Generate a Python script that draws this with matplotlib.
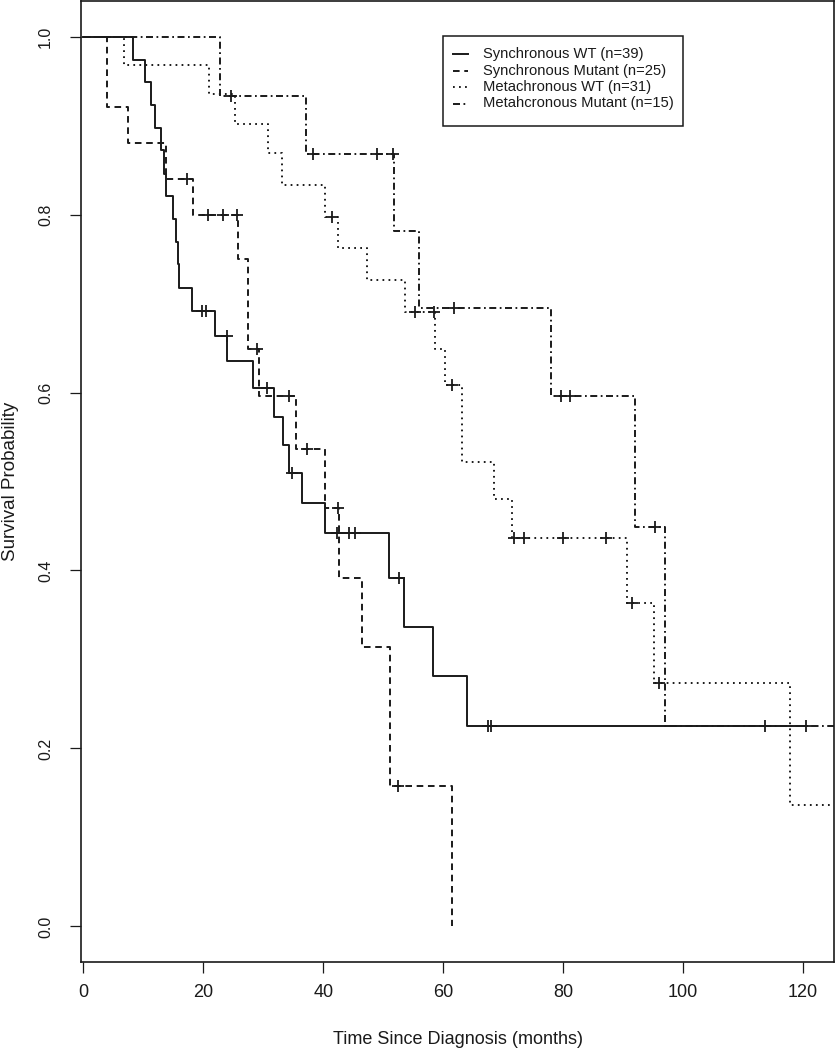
import numpy as np
import matplotlib
matplotlib.use("Agg")
import matplotlib.pyplot as plt
from matplotlib.patches import Rectangle
from matplotlib.lines import Line2D

plt.rcParams['font.family'] = ['Liberation Sans', 'DejaVu Sans']

# Kaplan-Meier curves: event times (months) and survival after each step
sync_wt_t = [8.2, 10.2, 11.2, 12.0, 12.9, 13.5, 13.8, 14.9, 15.45, 15.7, 16.0, 18.1,
             21.95, 24.0, 28.2, 31.8, 33.2, 34.3, 36.4, 40.2, 51.0, 53.45, 58.3, 63.9]
sync_wt_s = [0.974, 0.949, 0.923, 0.897, 0.872, 0.846, 0.821, 0.795, 0.769, 0.744, 0.718, 0.692,
             0.664, 0.635, 0.605, 0.573, 0.541, 0.510, 0.476, 0.442, 0.392, 0.337, 0.281, 0.225]
sync_wt_cens = [19.8, 20.4, 23.9, 30.6, 34.7, 42.3, 44.3, 45.3, 52.6, 67.5, 67.9, 113.7, 120.45]
sync_wt_end = 120.45

sync_mut_t = [3.9, 7.5, 13.8, 18.2, 25.8, 27.5, 29.2, 35.45, 40.35, 42.55, 46.4, 51.1, 61.5]
sync_mut_s = [0.921, 0.880, 0.840, 0.799, 0.750, 0.649, 0.596, 0.536, 0.470, 0.392, 0.314, 0.158, 0.0]
sync_mut_cens = [17.2, 20.8, 23.2, 25.6, 29.0, 34.3, 37.3, 42.4, 52.5]
sync_mut_end = 61.5

meta_wt_t = [6.8, 21.0, 25.3, 30.8, 33.1, 40.3, 42.5, 47.3, 53.6, 58.7, 60.3, 63.2,
             68.45, 71.5, 90.7, 95.1, 117.8]
meta_wt_s = [0.968, 0.936, 0.902, 0.869, 0.833, 0.797, 0.762, 0.726, 0.690, 0.649, 0.608, 0.522,
             0.480, 0.436, 0.363, 0.273, 0.136]
meta_wt_cens = [41.4, 55.3, 58.4, 61.4, 71.8, 73.5, 80.0, 87.1, 91.5, 96.0]
meta_wt_end = 126.0

meta_mut_t = [22.8, 37.1, 51.8, 55.95, 77.95, 91.95, 96.95]
meta_mut_s = [0.933, 0.868, 0.781, 0.6955, 0.596, 0.449, 0.225]
meta_mut_cens = [24.6, 38.3, 49.0, 51.7, 61.8, 79.6, 81.1, 95.3]
meta_mut_end = 126.0

labels = ["Synchronous WT (n=39)", "Synchronous Mutant (n=25)",
          "Metachronous WT (n=31)", "Metahcronous Mutant (n=15)"]

W, H = 836, 1050
ink = '#1a1a1a'
styles = ['-', (0, (3.4, 2.4)), (0, (0.9, 2.2)), (0, (3.6, 1.8, 0.9, 1.8))]


def px(x, y):
    return x / W, 1 - y / H


fig = plt.figure(figsize=(W / 100, H / 100), dpi=100)
ax = fig.add_axes([81 / W, 1 - 962 / H, (834.3 - 81) / W, 961 / H])

groups = [(sync_wt_t, sync_wt_s, sync_wt_cens, sync_wt_end),
          (sync_mut_t, sync_mut_s, sync_mut_cens, sync_mut_end),
          (meta_wt_t, meta_wt_s, meta_wt_cens, meta_wt_end),
          (meta_mut_t, meta_mut_s, meta_mut_cens, meta_mut_end)]

for (t, s, cens, end), ls in zip(groups, styles):
    xs = [0] + list(t) + ([end] if end > t[-1] else [])
    ys = [1.0] + list(s) + ([s[-1]] if end > t[-1] else [])
    ax.step(xs, ys, where='post', color=ink, lw=1.4, linestyle=ls)
    # censoring marks sit on the curve level at that time
    idx = np.searchsorted(np.array(t), np.array(cens), side='right')
    lev = np.concatenate([[1.0], s])[idx]
    ax.plot(cens, lev, linestyle='none', marker='+', ms=9, mew=1.3, color=ink)

ax.set_xlim(-0.4, 125.2)
ax.set_ylim(-0.04, 1.04)
ax.set_xticks([0, 20, 40, 60, 80, 100, 120])
ax.set_yticks([0.0, 0.2, 0.4, 0.6, 0.8, 1.0])
ax.set_yticklabels(['0.0', '0.2', '0.4', '0.6', '0.8', '1.0'])
ax.tick_params(axis='both', direction='out', length=8, width=0.9, colors=ink)
ax.tick_params(axis='x', pad=8, labelsize=13)
ax.tick_params(axis='y', pad=12, labelsize=11.5)
for lbl in ax.get_yticklabels():
    lbl.set_rotation(90)
    lbl.set_va('center')
for sp in ax.spines.values():
    sp.set_linewidth(1.2)
    sp.set_color(ink)

fig.text(*px(457.6, 1039), "Time Since Diagnosis (months)", ha='center', va='center',
         fontsize=13, color=ink)
fig.text(*px(11, 481), "Survival Probability", ha='center', va='center', rotation=90,
         fontsize=13.5, color=ink)

# legend box drawn the way R places it
x0, y0, x1, y1 = px(442.7, 125.7) + px(683, 35.7)
fig.patches.append(Rectangle((x0, y0), x1 - x0, y1 - y0, transform=fig.transFigure,
                             fill=False, edgecolor=ink, lw=1.1))
rows = [54.0, 70.5, 87.0, 103.5]
for lab, ls, ry in zip(labels, styles, rows):
    hx0, hy = px(453, ry)
    hx1, _ = px(468, ry)
    fig.lines.append(Line2D([hx0, hx1], [hy, hy], transform=fig.transFigure,
                            color=ink, lw=1.4, linestyle=ls))
    fig.text(*px(483.3, ry), lab, ha='left', va='center', fontsize=10.6, color=ink)

fig.savefig("out.png", dpi=100)
